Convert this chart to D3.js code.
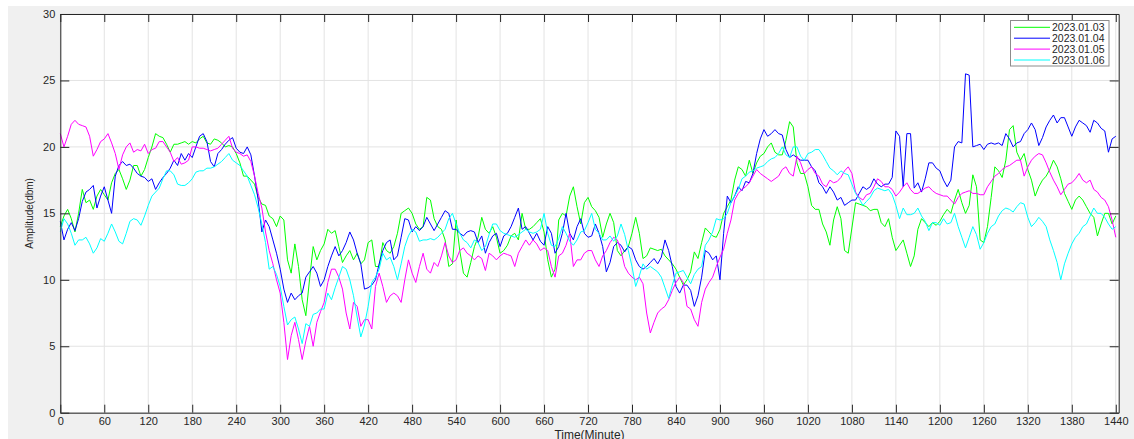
<!DOCTYPE html>
<html>
<head>
<meta charset="utf-8">
<script src="https://cdn.jsdelivr.net/npm/d3@7"></script>
<style>
  body { margin: 0; background: #ffffff; }
  text { font-family: "Liberation Sans", Arial, Helvetica, sans-serif; fill: #262626; }
</style>
</head>
<body>
<script>
const width = 1134;
const height = 439;
const margins = { top: 14, right: 15.3, bottom: 26.3, left: 60.3 };

// time axis: one reading every 5 minutes, 0..1440
const minutes = d3.range(0, 1441, 5);
const xTicks = d3.range(0, 1441, 60);
const yTicks = [0, 5, 10, 15, 20, 25, 30];
const labels = ["2023.01.03", "2023.01.04", "2023.01.05", "2023.01.06"];
const colour = ["#00ff00", "#0000ff", "#ff00ff", "#00ffff"];

const day03 = [
  14.0, 14.8, 15.3, 14.6, 13.6, 15.0, 16.8, 15.8, 16.0, 15.3, 16.3, 16.8,
  16.4, 16.0, 17.3, 18.0, 18.3, 17.6, 16.8, 17.5, 18.6, 18.6, 17.8, 18.3,
  19.2, 20.0, 21.0, 20.8, 20.7, 20.2, 19.6, 20.2, 20.2, 20.3, 20.4, 20.2,
  20.4, 20.3, 20.6, 20.8, 20.3, 20.2, 20.6, 20.5, 20.3, 20.0, 20.1, 20.0,
  19.5, 18.8, 17.8, 17.8, 17.5, 17.2, 16.2, 15.7, 15.6, 14.8, 14.6, 14.0,
  14.8, 14.5, 11.5, 10.5, 12.7, 11.0, 8.5, 7.3, 10.0, 12.5, 11.5, 12.2,
  12.7, 13.8, 13.5, 13.7, 12.5, 11.3, 11.8, 12.2, 11.5, 12.0, 11.2, 11.5,
  12.8, 13.0, 11.0, 11.0, 12.8, 12.2, 12.0, 12.5, 13.5, 15.0, 15.2, 15.4,
  15.0, 14.2, 13.8, 14.0, 16.2, 16.0, 14.6, 14.0, 13.8, 13.0, 11.0, 11.2,
  14.5, 12.2, 10.5, 10.2, 11.3, 12.5, 13.2, 14.7, 13.8, 13.5, 14.0, 13.2,
  12.0, 12.2, 12.6, 13.3, 13.5, 13.0, 15.0, 13.8, 13.8, 14.0, 14.3, 14.6,
  13.6, 11.5, 10.2, 10.8, 14.5, 15.0, 14.8, 16.3, 17.0, 15.5, 14.2, 15.8,
  16.2, 15.5, 15.2, 14.7, 13.2, 14.2, 15.0, 14.3, 12.2, 11.8, 12.2, 12.5,
  13.5, 14.7, 13.5, 11.6, 11.8, 12.4, 12.3, 12.2, 12.3, 11.8, 11.5, 11.2,
  10.8, 10.2, 9.6, 10.0, 10.6, 12.1, 11.6, 12.8, 13.9, 13.6, 13.3, 13.2,
  13.8, 15.0, 15.5, 16.0, 17.5, 18.5, 18.3, 17.8, 19.0, 18.0, 18.8, 19.3,
  19.5, 20.0, 20.3, 19.6, 19.4, 19.4, 20.5, 21.9, 21.5, 18.8, 18.0, 18.0,
  17.0, 15.6, 15.3, 15.3, 14.2, 13.6, 12.6, 14.5, 15.5, 14.6, 12.2, 12.0,
  13.9, 15.8, 15.7, 15.6, 15.5, 15.2, 15.3, 15.3, 14.3, 14.0, 14.6, 13.2,
  12.2, 12.6, 13.0, 12.0, 11.0, 11.8, 13.8, 14.6, 14.3, 14.0, 14.3, 14.1,
  14.4, 14.9, 15.3, 15.0, 16.0, 16.8, 15.8, 15.0, 15.6, 17.9, 17.0, 13.0,
  12.8, 14.0, 16.2, 18.5, 18.2, 17.7, 19.0, 21.3, 21.6, 19.6, 19.0, 19.5,
  18.3, 17.5, 16.3, 17.0, 17.5, 17.8, 18.3, 19.0, 18.5, 17.6, 16.5, 15.9,
  15.3, 16.0, 16.3, 16.0, 15.5, 15.0, 14.7, 13.3, 14.2, 15.0, 15.0, 14.2,
  14.8,
];

const day04 = [
  14.4, 13.0, 13.8, 14.3, 13.7, 14.6, 15.9, 16.6, 16.8, 17.1, 15.4, 16.3,
  17.0, 16.0, 15.0, 17.8, 18.6, 18.9, 18.6, 18.7, 18.4, 18.0, 17.8, 17.7,
  17.4, 17.6, 16.8, 17.3, 17.7, 18.0, 18.4, 19.0, 18.6, 19.5, 19.0, 19.5,
  19.2, 20.0, 20.8, 21.0, 20.4, 18.9, 18.5, 19.5, 19.8, 20.2, 20.5, 20.7,
  19.9, 19.6, 19.5, 20.0, 19.4, 17.8, 16.0, 13.6, 14.5, 14.0, 13.0, 12.0,
  10.8, 9.3, 8.3, 9.0, 8.5, 8.8, 9.0, 10.2, 10.6, 11.0, 10.5, 9.5,
  10.0, 11.0, 11.8, 12.5, 11.8, 12.2, 12.8, 13.6, 13.0, 12.0, 11.2, 9.3,
  9.4, 9.6, 10.0, 11.2, 12.2, 12.8, 13.0, 11.5, 11.8, 13.2, 14.6, 14.5,
  13.6, 14.0, 13.7, 14.0, 14.7, 14.2, 13.7, 14.2, 14.7, 15.2, 15.0, 13.8,
  13.8, 13.5, 13.3, 13.6, 13.7, 13.6, 12.8, 13.3, 12.0, 12.8, 13.3, 13.5,
  12.5, 13.3, 13.5, 14.0, 14.7, 15.4, 13.8, 14.0, 13.5, 13.0, 13.5, 12.9,
  12.6, 14.0, 13.5, 12.0, 12.5, 13.5, 15.0, 13.5, 13.0, 14.0, 14.6, 13.5,
  13.2, 13.3, 14.2, 13.5, 12.5, 10.6, 11.3, 12.5, 12.8, 12.6, 12.1, 12.5,
  12.3, 11.5, 11.0, 10.8, 11.0, 11.3, 11.6, 11.2, 11.7, 13.0, 12.2, 11.0,
  9.5, 9.0, 9.6, 9.6, 9.2, 8.0, 8.8, 10.2, 12.2, 12.0, 11.5, 11.8,
  10.0, 13.5, 16.3, 15.8, 16.3, 17.0, 16.7, 17.4, 17.3, 18.0, 19.5, 20.6,
  21.3, 20.8, 21.0, 21.3, 21.0, 20.9, 19.8, 19.2, 19.4, 19.2, 19.0, 19.0,
  19.0, 18.5, 18.2, 17.3, 17.0, 16.5, 17.0, 16.6, 16.0, 16.2, 15.6, 15.8,
  16.0, 16.0, 16.5, 17.0, 16.8, 17.0, 17.6, 17.2, 17.0, 17.2, 17.2, 17.7,
  21.2, 20.8, 17.0, 21.0, 21.0, 16.9, 17.3, 16.6, 17.6, 18.8, 18.8, 18.4,
  18.2, 17.5, 17.0, 17.5, 20.0, 20.4, 20.3, 25.5, 25.4, 20.0, 20.1, 20.2,
  19.8, 20.2, 20.3, 20.2, 20.3, 20.1, 21.0, 20.6, 20.0, 20.3, 20.4, 21.0,
  21.3, 21.8, 21.3, 20.1, 20.7, 21.5, 22.0, 22.4, 21.8, 22.2, 22.2, 21.5,
  20.8, 21.5, 22.0, 21.8, 21.6, 21.1, 22.0, 21.8, 21.4, 21.2, 19.6, 20.6,
  20.8,
];

const day05 = [
  21.0, 20.0, 20.8, 21.7, 22.0, 21.7, 21.6, 21.5, 20.8, 19.3, 19.8, 20.4,
  20.6, 21.0, 20.3, 19.5, 18.3, 19.4, 20.0, 20.3, 19.6, 19.8, 19.7, 20.2,
  19.5, 19.8, 19.9, 20.4, 20.4, 20.0, 19.6, 18.9, 19.2, 18.7, 18.8, 19.0,
  20.0, 20.0, 19.9, 19.9, 19.8, 19.7, 19.8, 19.9, 20.2, 20.5, 20.8, 19.9,
  19.6, 19.5, 19.3, 19.4, 18.9, 17.8, 16.5, 15.4, 13.6, 12.2, 11.2, 10.0,
  9.0, 6.8, 4.0, 5.8, 6.8, 5.5, 4.0, 5.4, 6.5, 5.0, 6.8, 7.6,
  8.3, 9.8, 10.8, 10.8, 10.2, 9.3, 7.5, 6.3, 8.3, 8.0, 6.5, 7.0,
  7.0, 6.3, 9.5, 10.5, 9.5, 8.3, 8.8, 9.0, 8.8, 8.3, 10.0, 11.5,
  10.5, 9.8, 11.0, 12.0, 10.8, 10.5, 11.3, 11.0, 11.8, 12.8, 11.8, 11.3,
  11.5, 12.2, 12.4, 12.0, 11.8, 11.5, 11.8, 11.6, 10.7, 12.0, 11.8, 11.5,
  11.8, 12.0, 11.9, 11.8, 11.0, 12.0, 12.5, 13.0, 12.6, 13.0, 12.7, 12.2,
  12.4, 12.2, 11.0, 10.2, 11.8, 12.0, 12.6, 13.5, 11.0, 11.5, 11.5, 12.0,
  12.2, 12.2, 11.5, 11.0, 11.8, 12.2, 12.8, 13.2, 13.0, 12.2, 11.0, 10.5,
  10.2, 10.0, 10.2, 9.7, 7.5, 6.0, 6.8, 7.5, 7.8, 8.0, 8.5, 9.2,
  9.8, 10.2, 9.8, 8.0, 7.8, 7.0, 6.5, 8.3, 9.3, 9.8, 10.2, 11.0,
  11.7, 12.3, 13.5, 14.5, 16.0, 16.5, 16.8, 17.0, 17.3, 17.8, 18.3, 18.0,
  17.8, 17.6, 17.4, 17.6, 17.8, 18.3, 18.5, 18.0, 17.8, 19.3, 18.8, 18.0,
  18.3, 18.5, 18.0, 17.8, 17.2, 17.0, 17.5, 17.3, 17.4, 17.7, 18.2, 18.5,
  18.0, 16.6, 16.2, 16.0, 16.4, 16.5, 17.0, 17.6, 17.4, 17.0, 17.0, 16.8,
  16.3, 16.6, 17.0, 17.3, 16.8, 16.5, 16.5, 16.7, 16.9, 17.0, 16.7, 16.5,
  16.4, 16.3, 16.3, 16.0, 15.7, 16.2, 16.5, 16.6, 16.7, 16.5, 16.5, 16.4,
  16.4, 17.0, 17.4, 17.8, 18.0, 18.3, 18.5, 18.6, 18.8, 19.0, 19.0, 17.8,
  18.5, 19.0, 19.3, 19.5, 19.4, 18.8, 18.1, 17.5, 17.0, 16.4, 16.8, 17.2,
  17.3, 17.6, 18.0, 17.5, 17.3, 17.5, 16.8, 16.6, 16.2, 16.0, 15.5, 14.5,
  13.2,
];

const day06 = [
  13.6, 14.6, 14.2, 13.5, 12.6, 13.0, 13.0, 13.2, 12.7, 12.0, 12.4, 13.1,
  12.9, 13.5, 14.2, 13.6, 12.9, 12.7, 13.5, 14.4, 14.6, 14.5, 14.1, 14.8,
  15.6, 16.3, 16.6, 16.9, 17.6, 18.2, 18.2, 17.9, 17.2, 17.1, 17.1, 17.3,
  17.6, 18.1, 18.2, 18.2, 18.4, 18.4, 18.5, 18.7, 18.9, 19.2, 19.5, 19.0,
  18.8, 18.6, 18.2, 17.8, 17.1, 16.4, 15.4, 14.2, 12.8, 10.8, 11.0, 10.4,
  9.5, 8.0, 6.6, 7.0, 7.2, 6.3, 5.2, 6.7, 6.5, 7.4, 7.5, 7.8,
  7.8, 9.0, 8.5, 9.4, 10.2, 11.0, 10.8, 10.0, 8.8, 7.2, 5.7, 6.6,
  8.0, 9.8, 10.2, 10.8, 12.0, 11.5, 11.7, 11.0, 10.0, 11.2, 12.5, 13.3,
  13.8, 13.6, 12.9, 13.0, 13.0, 13.1, 13.0, 13.2, 13.5, 13.8, 14.6, 15.0,
  14.2, 13.5, 13.0, 12.8, 12.4, 13.0, 12.8, 12.2, 12.5, 13.4, 14.2, 14.2,
  13.7, 13.5, 13.4, 13.3, 13.2, 13.4, 13.6, 13.8, 13.6, 13.5, 13.6, 13.8,
  15.0, 13.5, 12.6, 12.5, 13.1, 14.0, 13.5, 12.9, 12.6, 13.0, 13.6, 13.7,
  14.3, 15.0, 13.8, 13.5, 13.0, 13.0, 13.3, 12.9, 13.3, 14.2, 13.4, 12.2,
  11.0, 9.5, 10.3, 11.2, 10.8, 11.0, 10.8, 10.6, 10.2, 9.4, 8.6, 9.6,
  10.5, 10.6, 10.7, 10.2, 9.7, 10.4, 10.8, 11.0, 12.6, 13.0, 13.6, 14.6,
  14.5, 14.6, 15.0, 15.8, 16.3, 16.8, 17.6, 17.8, 18.1, 18.2, 18.4, 18.5,
  18.6, 18.9, 19.1, 19.2, 19.5, 20.0, 19.4, 19.2, 20.0, 20.0, 19.3, 19.0,
  19.5, 19.6, 19.8, 19.8, 19.4, 18.9, 18.4, 18.2, 17.9, 18.2, 18.0, 17.9,
  17.2, 16.5, 16.1, 15.6, 15.9, 16.2, 16.7, 16.9, 16.8, 16.7, 16.8, 16.4,
  15.6, 14.6, 15.4, 14.9, 14.9, 15.0, 15.4, 14.8, 14.4, 13.7, 14.3, 14.3,
  14.1, 14.6, 14.2, 14.3, 15.0, 14.0, 13.2, 12.4, 13.2, 14.0, 13.4, 12.3,
  12.8, 13.5, 14.0, 14.2, 14.8, 15.2, 15.4, 15.3, 15.1, 15.5, 15.8, 15.7,
  14.7, 14.0, 14.3, 14.7, 14.4, 14.0, 13.0, 12.2, 11.3, 10.0, 11.2, 12.0,
  12.7, 13.2, 13.5, 14.0, 14.2, 14.8, 15.4, 15.0, 15.0, 14.7, 14.2, 13.8,
  14.0,
];

const series = [day03, day04, day05, day06];

const svg = d3
  .select("body")
  .append("svg")
  .attr("width", width)
  .attr("height", height);

// grey figure background
svg
  .append("rect")
  .attr("x", 8)
  .attr("y", 6)
  .attr("width", width - 8)
  .attr("height", height - 6)
  .attr("fill", "#f0f0f0");

const plotW = width - margins.left - margins.right;
const plotH = height - margins.top - margins.bottom;

const x = d3.scaleLinear().domain([0, 1444]).range([margins.left, margins.left + plotW]);
const y = d3.scaleLinear().domain([0, 30]).range([margins.top + plotH, margins.top]);

svg
  .append("rect")
  .attr("x", margins.left)
  .attr("y", margins.top)
  .attr("width", plotW)
  .attr("height", plotH)
  .attr("fill", "#ffffff");

// grid
svg
  .append("g")
  .selectAll("line")
  .data(xTicks)
  .join("line")
  .attr("x1", (d) => x(d))
  .attr("x2", (d) => x(d))
  .attr("y1", margins.top)
  .attr("y2", margins.top + plotH)
  .attr("stroke", "#e3e3e3")
  .attr("stroke-width", 1);

svg
  .append("g")
  .selectAll("line")
  .data(yTicks)
  .join("line")
  .attr("x1", margins.left)
  .attr("x2", margins.left + plotW)
  .attr("y1", (d) => y(d))
  .attr("y2", (d) => y(d))
  .attr("stroke", "#e3e3e3")
  .attr("stroke-width", 1);

// lines
const line = d3
  .line()
  .x((d, i) => x(minutes[i]))
  .y((d) => y(d));

svg
  .append("g")
  .selectAll("path")
  .data(series)
  .join("path")
  .attr("d", (d) => line(d))
  .attr("fill", "none")
  .attr("stroke", (d, i) => colour[i])
  .attr("stroke-width", 1)
  .attr("stroke-linejoin", "round");

// axes, ticks pointing inwards, box all round
const axisStyle = (g) => {
  g.selectAll("text")
    .attr("font-size", 11)
    .attr("fill", "#262626")
    .attr("font-family", "'Liberation Sans', Arial, sans-serif");
  g.selectAll("line").attr("stroke", "#262626");
  g.select(".domain").attr("stroke", "#262626");
};

svg
  .append("g")
  .attr("transform", `translate(0,${margins.top + plotH})`)
  .call(
    d3.axisBottom(x).tickValues(xTicks).tickSize(-8).tickPadding(5)
      .tickSizeOuter(0).tickFormat(d3.format("d"))
  )
  .call(axisStyle);

svg
  .append("g")
  .attr("transform", `translate(0,${margins.top})`)
  .call(d3.axisTop(x).tickValues(xTicks).tickSize(-8).tickFormat("").tickSizeOuter(0))
  .call(axisStyle);

svg
  .append("g")
  .attr("transform", `translate(${margins.left},0)`)
  .call(
    d3.axisLeft(y).tickValues(yTicks).tickSize(-9).tickPadding(5)
      .tickSizeOuter(0).tickFormat(d3.format("d"))
  )
  .call(axisStyle);

svg
  .append("g")
  .attr("transform", `translate(${margins.left + plotW},0)`)
  .call(d3.axisRight(y).tickValues(yTicks).tickSize(-9).tickFormat("").tickSizeOuter(0))
  .call(axisStyle);

// axis labels
svg
  .append("text")
  .attr("x", margins.left + plotW / 2)
  .attr("y", 438.5)
  .attr("text-anchor", "middle")
  .attr("font-size", 12)
  .text("Time(Minute)");

svg
  .append("text")
  .attr("transform", `translate(33,${margins.top + plotH / 2}) rotate(-90)`)
  .attr("text-anchor", "middle")
  .attr("font-size", 10)
  .text("Amplitude(dbm)");

// legend
const legend = svg.append("g").attr("transform", "translate(1010.5,20.5)");

legend
  .append("rect")
  .attr("width", 98.5)
  .attr("height", 45.5)
  .attr("fill", "#ffffff")
  .attr("stroke", "#8c8c8c")
  .attr("stroke-width", 1);

const entry = legend
  .selectAll("g")
  .data(labels)
  .join("g")
  .attr("transform", (d, i) => `translate(0,${6.8 + i * 10.9})`);

entry
  .append("line")
  .attr("x1", 3.5)
  .attr("x2", 39.5)
  .attr("stroke", (d, i) => colour[i])
  .attr("stroke-width", 1);

entry
  .append("text")
  .attr("x", 41.5)
  .attr("dy", "0.36em")
  .attr("font-size", 10.5)
  .text((d) => d);
</script>
</body>
</html>
